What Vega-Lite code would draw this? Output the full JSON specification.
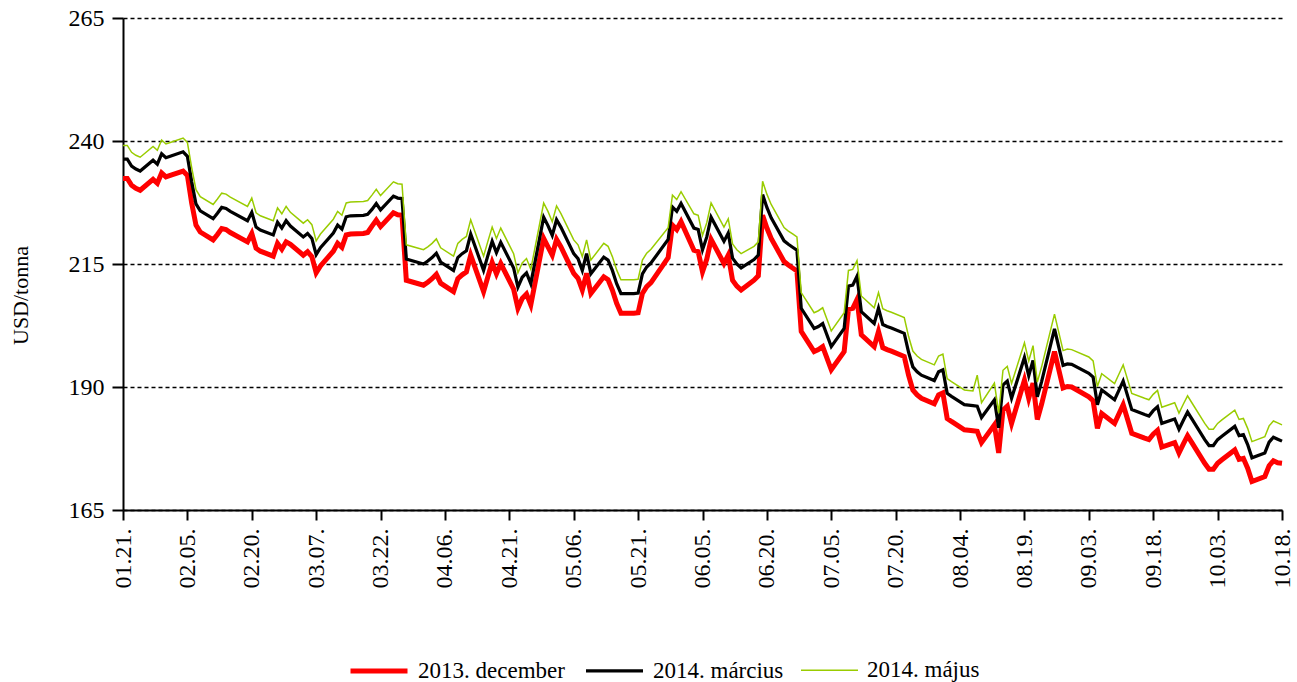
{
"$schema": "https://vega.github.io/schema/vega-lite/v6.json",
"width": 1159, "height": 492,
"autosize": "none",
"padding": {"left": 123, "top": 18, "right": 15, "bottom": 172},
"background": "white",
"config": {"view": {"stroke": null}, "font": "Liberation Serif"},
"data": {"values": [
{"d":"2013-01-21","r":232.4,"b":236.3,"g":239.1},
{"d":"2013-01-22","r":232.4,"b":236.3,"g":239.1},
{"d":"2013-01-23","r":231.0,"b":234.9,"g":237.7},
{"d":"2013-01-24","r":230.4,"b":234.3,"g":237.1},
{"d":"2013-01-25","r":230.0,"b":233.9,"g":236.7},
{"d":"2013-01-28","r":232.2,"b":236.1,"g":238.9},
{"d":"2013-01-29","r":231.4,"b":235.3,"g":238.1},
{"d":"2013-01-30","r":233.5,"b":237.4,"g":240.2},
{"d":"2013-01-31","r":232.7,"b":236.6,"g":239.4},
{"d":"2013-02-01","r":233.0,"b":236.9,"g":239.7},
{"d":"2013-02-04","r":233.9,"b":237.8,"g":240.6},
{"d":"2013-02-05","r":233.0,"b":236.9,"g":239.7},
{"d":"2013-02-06","r":227.4,"b":231.7,"g":234.6},
{"d":"2013-02-07","r":222.9,"b":227.2,"g":230.1},
{"d":"2013-02-08","r":221.5,"b":225.8,"g":228.7},
{"d":"2013-02-11","r":219.9,"b":224.2,"g":227.1},
{"d":"2013-02-12","r":221.0,"b":225.3,"g":228.2},
{"d":"2013-02-13","r":222.2,"b":226.5,"g":229.4},
{"d":"2013-02-14","r":222.0,"b":226.3,"g":229.2},
{"d":"2013-02-15","r":221.4,"b":225.7,"g":228.6},
{"d":"2013-02-19","r":219.5,"b":223.8,"g":226.7},
{"d":"2013-02-20","r":221.2,"b":225.5,"g":228.4},
{"d":"2013-02-21","r":218.2,"b":222.5,"g":225.4},
{"d":"2013-02-22","r":217.6,"b":221.9,"g":224.8},
{"d":"2013-02-25","r":216.6,"b":220.9,"g":223.8},
{"d":"2013-02-26","r":219.2,"b":223.5,"g":226.4},
{"d":"2013-02-27","r":218.0,"b":222.3,"g":225.2},
{"d":"2013-02-28","r":219.5,"b":223.8,"g":226.7},
{"d":"2013-03-01","r":219.0,"b":222.7,"g":225.5},
{"d":"2013-03-04","r":216.8,"b":220.5,"g":223.3},
{"d":"2013-03-05","r":217.5,"b":221.2,"g":224.0},
{"d":"2013-03-06","r":216.5,"b":220.2,"g":223.0},
{"d":"2013-03-07","r":213.2,"b":216.9,"g":219.7},
{"d":"2013-03-08","r":214.6,"b":218.3,"g":221.1},
{"d":"2013-03-11","r":217.6,"b":221.3,"g":224.1},
{"d":"2013-03-12","r":219.2,"b":222.9,"g":225.7},
{"d":"2013-03-13","r":218.4,"b":222.1,"g":224.9},
{"d":"2013-03-14","r":220.9,"b":224.6,"g":227.4},
{"d":"2013-03-15","r":221.1,"b":224.8,"g":227.6},
{"d":"2013-03-18","r":221.2,"b":224.9,"g":227.7},
{"d":"2013-03-19","r":221.4,"b":225.1,"g":227.9},
{"d":"2013-03-20","r":222.7,"b":226.1,"g":229.0},
{"d":"2013-03-21","r":223.9,"b":227.3,"g":230.2},
{"d":"2013-03-22","r":222.6,"b":226.0,"g":228.9},
{"d":"2013-03-25","r":225.4,"b":228.8,"g":231.7},
{"d":"2013-03-26","r":225.0,"b":228.4,"g":231.3},
{"d":"2013-03-27","r":224.9,"b":228.3,"g":231.2},
{"d":"2013-03-28","r":211.7,"b":216.0,"g":218.9},
{"d":"2013-04-01","r":210.7,"b":215.0,"g":217.9},
{"d":"2013-04-02","r":211.3,"b":215.6,"g":218.5},
{"d":"2013-04-03","r":212.0,"b":216.3,"g":219.2},
{"d":"2013-04-04","r":212.9,"b":217.2,"g":220.1},
{"d":"2013-04-05","r":211.1,"b":215.4,"g":218.3},
{"d":"2013-04-08","r":209.4,"b":213.7,"g":216.6},
{"d":"2013-04-09","r":212.0,"b":216.3,"g":219.2},
{"d":"2013-04-10","r":212.8,"b":217.1,"g":220.0},
{"d":"2013-04-11","r":213.4,"b":217.7,"g":220.6},
{"d":"2013-04-12","r":216.8,"b":221.1,"g":224.0},
{"d":"2013-04-15","r":209.4,"b":213.7,"g":216.6},
{"d":"2013-04-16","r":212.4,"b":216.7,"g":219.6},
{"d":"2013-04-17","r":215.3,"b":219.6,"g":222.5},
{"d":"2013-04-18","r":213.0,"b":217.3,"g":220.2},
{"d":"2013-04-19","r":215.1,"b":219.4,"g":222.3},
{"d":"2013-04-22","r":209.9,"b":214.2,"g":217.1},
{"d":"2013-04-23","r":206.0,"b":210.3,"g":213.2},
{"d":"2013-04-24","r":208.0,"b":212.3,"g":215.2},
{"d":"2013-04-25","r":208.9,"b":213.2,"g":216.1},
{"d":"2013-04-26","r":206.7,"b":211.0,"g":213.9},
{"d":"2013-04-29","r":220.2,"b":224.5,"g":227.4},
{"d":"2013-04-30","r":218.5,"b":222.8,"g":225.7},
{"d":"2013-05-01","r":216.8,"b":220.8,"g":223.6},
{"d":"2013-05-02","r":220.0,"b":224.0,"g":226.8},
{"d":"2013-05-03","r":218.5,"b":222.5,"g":225.3},
{"d":"2013-05-06","r":213.1,"b":217.1,"g":219.9},
{"d":"2013-05-07","r":212.1,"b":216.1,"g":218.9},
{"d":"2013-05-08","r":209.7,"b":213.7,"g":216.5},
{"d":"2013-05-09","r":213.1,"b":217.1,"g":219.9},
{"d":"2013-05-10","r":209.0,"b":213.0,"g":215.8},
{"d":"2013-05-13","r":212.4,"b":216.4,"g":219.2},
{"d":"2013-05-14","r":211.8,"b":215.8,"g":218.6},
{"d":"2013-05-15","r":209.7,"b":213.7,"g":216.5},
{"d":"2013-05-16","r":207.0,"b":211.0,"g":213.8},
{"d":"2013-05-17","r":205.0,"b":209.0,"g":211.8},
{"d":"2013-05-20","r":205.0,"b":209.0,"g":211.8},
{"d":"2013-05-21","r":205.1,"b":209.1,"g":211.9},
{"d":"2013-05-22","r":209.0,"b":213.0,"g":215.8},
{"d":"2013-05-23","r":210.4,"b":214.4,"g":217.2},
{"d":"2013-05-24","r":211.2,"b":215.2,"g":218.0},
{"d":"2013-05-28","r":216.3,"b":220.0,"g":222.4},
{"d":"2013-05-29","r":222.9,"b":226.6,"g":229.0},
{"d":"2013-05-30","r":222.0,"b":225.7,"g":228.1},
{"d":"2013-05-31","r":223.6,"b":227.3,"g":229.7},
{"d":"2013-06-03","r":217.8,"b":222.3,"g":225.2},
{"d":"2013-06-04","r":217.5,"b":222.0,"g":224.9},
{"d":"2013-06-05","r":213.4,"b":217.9,"g":220.8},
{"d":"2013-06-06","r":216.0,"b":220.5,"g":223.4},
{"d":"2013-06-07","r":220.0,"b":224.5,"g":227.4},
{"d":"2013-06-10","r":215.1,"b":219.6,"g":222.5},
{"d":"2013-06-11","r":216.8,"b":221.3,"g":224.2},
{"d":"2013-06-12","r":211.7,"b":216.2,"g":219.1},
{"d":"2013-06-13","r":210.5,"b":215.0,"g":217.9},
{"d":"2013-06-14","r":209.7,"b":214.2,"g":217.1},
{"d":"2013-06-17","r":211.7,"b":215.9,"g":218.6},
{"d":"2013-06-18","r":212.6,"b":216.8,"g":219.5},
{"d":"2013-06-19","r":224.9,"b":229.1,"g":231.8},
{"d":"2013-06-20","r":222.3,"b":226.5,"g":229.2},
{"d":"2013-06-21","r":220.2,"b":224.4,"g":227.1},
{"d":"2013-06-24","r":215.5,"b":219.7,"g":222.4},
{"d":"2013-06-25","r":214.8,"b":219.0,"g":221.7},
{"d":"2013-06-26","r":214.2,"b":218.4,"g":221.1},
{"d":"2013-06-27","r":213.6,"b":217.8,"g":220.5},
{"d":"2013-06-28","r":201.3,"b":206.0,"g":209.2},
{"d":"2013-07-01","r":197.2,"b":201.9,"g":205.1},
{"d":"2013-07-02","r":197.6,"b":202.3,"g":205.5},
{"d":"2013-07-03","r":198.2,"b":202.9,"g":206.1},
{"d":"2013-07-05","r":193.5,"b":198.2,"g":201.4},
{"d":"2013-07-08","r":197.2,"b":201.9,"g":205.1},
{"d":"2013-07-09","r":205.8,"b":210.5,"g":213.7},
{"d":"2013-07-10","r":206.0,"b":210.7,"g":213.9},
{"d":"2013-07-11","r":207.8,"b":212.5,"g":215.7},
{"d":"2013-07-12","r":200.6,"b":205.3,"g":208.5},
{"d":"2013-07-15","r":198.2,"b":202.9,"g":206.1},
{"d":"2013-07-16","r":201.3,"b":206.0,"g":209.2},
{"d":"2013-07-17","r":198.0,"b":202.7,"g":205.9},
{"d":"2013-07-18","r":197.6,"b":202.3,"g":205.5},
{"d":"2013-07-19","r":197.3,"b":202.0,"g":205.2},
{"d":"2013-07-22","r":196.2,"b":200.9,"g":204.1},
{"d":"2013-07-23","r":192.4,"b":197.1,"g":200.3},
{"d":"2013-07-24","r":189.4,"b":194.1,"g":197.3},
{"d":"2013-07-25","r":188.4,"b":193.1,"g":196.3},
{"d":"2013-07-26","r":187.7,"b":192.4,"g":195.6},
{"d":"2013-07-29","r":186.6,"b":191.3,"g":194.5},
{"d":"2013-07-30","r":188.4,"b":193.1,"g":196.3},
{"d":"2013-07-31","r":188.8,"b":193.5,"g":196.7},
{"d":"2013-08-01","r":183.6,"b":188.7,"g":191.7},
{"d":"2013-08-02","r":183.0,"b":188.1,"g":191.1},
{"d":"2013-08-05","r":181.3,"b":186.4,"g":189.4},
{"d":"2013-08-06","r":181.2,"b":186.3,"g":189.3},
{"d":"2013-08-07","r":181.1,"b":186.2,"g":189.2},
{"d":"2013-08-08","r":181.0,"b":186.1,"g":192.4},
{"d":"2013-08-09","r":178.7,"b":183.8,"g":186.8},
{"d":"2013-08-12","r":182.3,"b":187.4,"g":190.8},
{"d":"2013-08-13","r":176.6,"b":181.7,"g":184.7},
{"d":"2013-08-14","r":185.3,"b":190.4,"g":193.4},
{"d":"2013-08-15","r":186.1,"b":191.2,"g":194.2},
{"d":"2013-08-16","r":182.6,"b":187.7,"g":190.7},
{"d":"2013-08-19","r":191.4,"b":196.0,"g":199.0},
{"d":"2013-08-20","r":187.7,"b":192.3,"g":195.3},
{"d":"2013-08-21","r":190.8,"b":195.4,"g":198.4},
{"d":"2013-08-22","r":183.4,"b":188.0,"g":191.0},
{"d":"2013-08-23","r":186.5,"b":191.1,"g":194.1},
{"d":"2013-08-26","r":197.2,"b":201.8,"g":204.8},
{"d":"2013-08-27","r":193.5,"b":198.1,"g":201.1},
{"d":"2013-08-28","r":189.8,"b":194.4,"g":197.4},
{"d":"2013-08-29","r":190.1,"b":194.7,"g":197.7},
{"d":"2013-08-30","r":190.0,"b":194.6,"g":197.6},
{"d":"2013-09-03","r":188.0,"b":192.8,"g":196.1},
{"d":"2013-09-04","r":187.2,"b":192.0,"g":195.3},
{"d":"2013-09-05","r":181.6,"b":186.4,"g":190.1},
{"d":"2013-09-06","r":184.6,"b":189.4,"g":192.7},
{"d":"2013-09-09","r":182.6,"b":187.4,"g":190.7},
{"d":"2013-09-10","r":184.5,"b":189.3,"g":192.6},
{"d":"2013-09-11","r":186.4,"b":191.2,"g":194.5},
{"d":"2013-09-12","r":183.5,"b":188.3,"g":191.6},
{"d":"2013-09-13","r":180.6,"b":185.4,"g":188.7},
{"d":"2013-09-16","r":179.6,"b":184.4,"g":187.7},
{"d":"2013-09-17","r":179.3,"b":184.1,"g":187.4},
{"d":"2013-09-18","r":180.4,"b":185.2,"g":188.5},
{"d":"2013-09-19","r":181.2,"b":186.0,"g":189.3},
{"d":"2013-09-20","r":177.8,"b":182.6,"g":185.9},
{"d":"2013-09-23","r":178.7,"b":183.5,"g":186.8},
{"d":"2013-09-24","r":176.6,"b":181.4,"g":184.7},
{"d":"2013-09-25","r":178.4,"b":183.2,"g":186.5},
{"d":"2013-09-26","r":180.1,"b":184.9,"g":188.2},
{"d":"2013-09-27","r":178.7,"b":183.5,"g":186.8},
{"d":"2013-09-30","r":174.5,"b":179.3,"g":182.6},
{"d":"2013-10-01","r":173.3,"b":178.1,"g":181.4},
{"d":"2013-10-02","r":173.3,"b":178.1,"g":181.4},
{"d":"2013-10-03","r":174.5,"b":179.3,"g":182.6},
{"d":"2013-10-04","r":175.2,"b":180.0,"g":183.3},
{"d":"2013-10-07","r":177.2,"b":182.0,"g":185.3},
{"d":"2013-10-08","r":175.3,"b":180.1,"g":183.4},
{"d":"2013-10-09","r":175.5,"b":180.3,"g":183.6},
{"d":"2013-10-10","r":173.5,"b":178.3,"g":181.6},
{"d":"2013-10-11","r":170.8,"b":175.6,"g":178.9},
{"d":"2013-10-14","r":171.8,"b":176.6,"g":179.9},
{"d":"2013-10-15","r":174.0,"b":178.8,"g":182.1},
{"d":"2013-10-16","r":175.0,"b":179.8,"g":183.1},
{"d":"2013-10-17","r":174.6,"b":179.4,"g":182.7},
{"d":"2013-10-18","r":174.5,"b":179.0,"g":182.3}
]},
"transform": [{"fold": ["r", "b", "g"], "as": ["s", "v"]}],
"mark": {"type": "line", "strokeJoin": "miter", "clip": false},
"encoding": {
  "x": {"field": "d", "type": "temporal",
    "scale": {"type": "utc", "domain": [{"year": 2013, "month": 1, "date": 21, "utc": true}, {"year": 2013, "month": 10, "date": 18, "utc": true}]},
    "axis": {
      "values": [
        {"year": 2013, "month": 1, "date": 21, "utc": true},
        {"year": 2013, "month": 2, "date": 5, "utc": true},
        {"year": 2013, "month": 2, "date": 20, "utc": true},
        {"year": 2013, "month": 3, "date": 7, "utc": true},
        {"year": 2013, "month": 3, "date": 22, "utc": true},
        {"year": 2013, "month": 4, "date": 6, "utc": true},
        {"year": 2013, "month": 4, "date": 21, "utc": true},
        {"year": 2013, "month": 5, "date": 6, "utc": true},
        {"year": 2013, "month": 5, "date": 21, "utc": true},
        {"year": 2013, "month": 6, "date": 5, "utc": true},
        {"year": 2013, "month": 6, "date": 20, "utc": true},
        {"year": 2013, "month": 7, "date": 5, "utc": true},
        {"year": 2013, "month": 7, "date": 20, "utc": true},
        {"year": 2013, "month": 8, "date": 4, "utc": true},
        {"year": 2013, "month": 8, "date": 19, "utc": true},
        {"year": 2013, "month": 9, "date": 3, "utc": true},
        {"year": 2013, "month": 9, "date": 18, "utc": true},
        {"year": 2013, "month": 10, "date": 3, "utc": true},
        {"year": 2013, "month": 10, "date": 18, "utc": true}
      ],
      "labelExpr": "utcFormat(datum.value, '%m.%d.')",
      "labelAngle": -90,
      "labelAlign": "right",
      "labelBaseline": "middle",
      "labelFont": "Liberation Serif",
      "labelFontSize": 24,
      "labelColor": "black",
      "labelPadding": 8,
      "labelOverlap": false,
      "labelFlush": false,
      "tickSize": 10,
      "tickWidth": 2,
      "tickColor": "black",
      "domainColor": "black",
      "domainWidth": 2,
      "grid": false,
      "title": null
    }
  },
  "y": {"field": "v", "type": "quantitative",
    "scale": {"domain": [165, 265], "nice": false, "zero": false},
    "axis": {
      "values": [165, 190, 215, 240, 265],
      "grid": true,
      "gridColor": "black",
      "gridDash": [4, 3],
      "gridWidth": 1.5,
      "tickSize": 11,
      "tickWidth": 2,
      "tickColor": "black",
      "domainColor": "black",
      "domainWidth": 2,
      "labelFont": "Liberation Serif",
      "labelFontSize": 24,
      "labelColor": "black",
      "labelPadding": 8,
      "title": "USD/tonna",
      "titleFont": "Liberation Serif",
      "titleFontSize": 22,
      "titleFontWeight": "normal",
      "titleColor": "black",
      "titleAngle": 270,
      "titleAlign": "center",
      "titleBaseline": "middle",
      "titleX": -103,
      "titleY": 277
    }
  },
  "color": {"field": "s", "type": "nominal",
    "scale": {"domain": ["r", "b", "g"], "range": ["#ff0000", "#000000", "#99cc00"]},
    "legend": {
      "title": null,
      "orient": "none",
      "legendX": 225,
      "legendY": 622,
      "direction": "horizontal",
      "symbolType": "stroke",
      "symbolSize": 3249,
      "labelExpr": "datum.label == 'r' ? '2013. december' : datum.label == 'b' ? '2014. március' : '2014. május'",
      "labelFont": "Liberation Serif",
      "labelFontSize": 23,
      "labelColor": "black",
      "labelOffset": 8,
      "labelLimit": 400,
      "columnPadding": 14,
      "padding": 0
    }
  },
  "strokeWidth": {"field": "s", "type": "nominal",
    "scale": {"domain": ["r", "b", "g"], "range": [5, 1.5, 1.5]},
    "legend": {
      "title": null,
      "orient": "none",
      "legendX": 225,
      "legendY": 622,
      "direction": "horizontal",
      "symbolType": "stroke",
      "symbolSize": 3249,
      "labelExpr": "datum.label == 'r' ? '2013. december' : datum.label == 'b' ? '2014. március' : '2014. május'",
      "labelFont": "Liberation Serif",
      "labelFontSize": 23,
      "labelColor": "black",
      "labelOffset": 8,
      "labelLimit": 400,
      "columnPadding": 14,
      "padding": 0
    }
  }
}
}
